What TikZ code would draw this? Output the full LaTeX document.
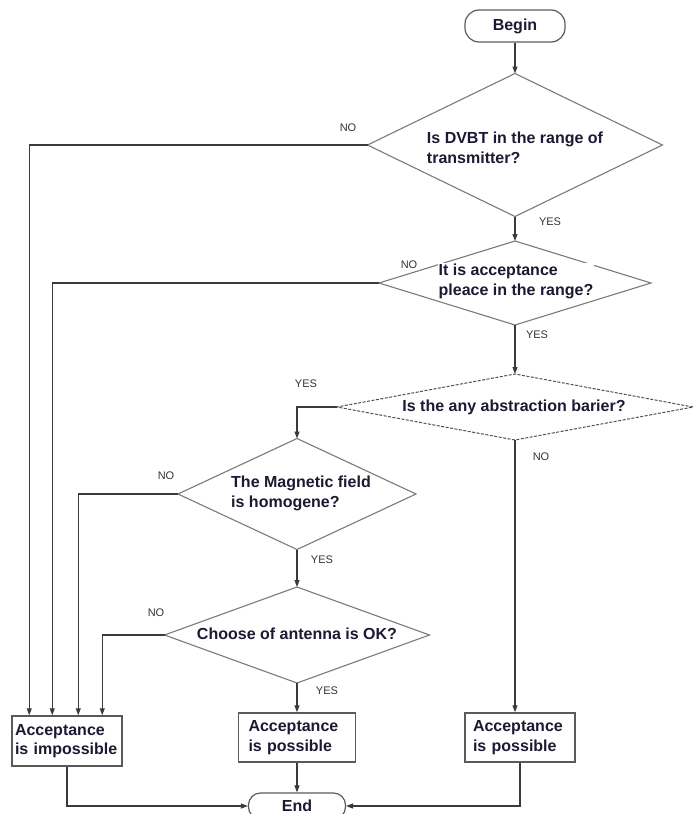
\documentclass[tikz,border=0pt]{standalone}
\usepackage{fontspec}
\setmainfont{Liberation Sans}
\usetikzlibrary{shapes.geometric,arrows.meta}
\definecolor{diagray}{HTML}{7A7A7A}
\definecolor{dashgray}{HTML}{505050}
\definecolor{boxgray}{HTML}{5A5A5A}
\definecolor{linecol}{HTML}{3A3A3A}
\definecolor{txtcol}{HTML}{1A1A33}
\definecolor{lblcol}{HTML}{333333}
\tikzset{
  dec/.style={diamond, draw=diagray, line width=1.1pt, inner sep=0pt, outer sep=0pt},
  txt/.style={font=\bfseries\fontsize{16}{20}\selectfont, text=txtcol, align=left, inner sep=1pt},
  lbl/.style={font=\fontsize{11}{13}\selectfont, text=lblcol, inner sep=0pt},
  term/.style={rectangle, rounded corners=12pt, draw=boxgray, line width=1.2pt, inner sep=0pt,
    font=\bfseries\fontsize{16}{20}\selectfont, text=txtcol},
  proc/.style={rectangle, draw=boxgray, line width=1.5pt, inner ysep=0pt,
    font=\bfseries\fontsize{16}{19.5}\selectfont, text=txtcol, align=left},
  conn/.style={draw=linecol, line width=1.1pt, -{Triangle[length=7pt,width=5pt]}},
}
\begin{document}
\begin{tikzpicture}[x=1pt,y=-1pt]
\useasboundingbox (0,0) rectangle (694,814);
% terminals
\node[term, rounded corners=14pt, minimum width=100pt, minimum height=32pt] (b) at (515,26) {Begin};
\node[term, minimum width=97pt, minimum height=26pt] (e) at (297,806) {End};
% decisions
\node[dec, minimum width=295pt, minimum height=143pt] (d1) at (515,145) {};
\node[txt] (t1) at (515,148) {Is DVBT in the range of\\transmitter?};
\node[dec, minimum width=272pt, minimum height=84pt] (d2) at (515,283) {};
\node[txt, fill=white] (t2) at (516,281) {It is acceptance\\pleace in the range?};
\node[dec, draw=dashgray, line width=1pt, dash pattern=on 3pt off 1.5pt, minimum width=356pt, minimum height=66pt] (d3) at (515,407) {};
\node[txt] (t3) at (514,407) {Is the any abstraction barier?};
\node[dec, minimum width=238pt, minimum height=111pt] (d4) at (297,494) {};
\node[txt] (t4) at (301,493) {The Magnetic field\\is homogene?};
\node[dec, minimum width=265pt, minimum height=96pt] (d5) at (297,635) {};
\node[txt, fill=white] (t5) at (297,634) {Choose of antenna is OK?};
% process boxes
\node[proc, inner xsep=3pt, text width=104pt, minimum height=50pt] (L) at (67,741) {Acceptance\\is impossible};
\node[proc, inner xsep=10pt, text width=97pt, minimum height=49pt] (m) at (297,737.5) {Acceptance\\is possible};
\node[proc, inner xsep=8pt, text width=94pt, minimum height=49pt] (r) at (520,737.5) {Acceptance\\is possible};
% connectors
\draw[conn] (b.south) -- (d1.north);
\draw[conn] (d1.south) -- (d2.north);
\draw[conn] (d2.south) -- (d3.north);
\draw[conn] (d3.west) -| (d4.north);
\draw[conn] (d4.south) -- (d5.north);
\draw[conn] (d5.south) -- (m.north);
\draw[conn] (d3.south) -- (d3.south |- r.north);
\draw[conn] (d1.west) -| ([xshift=18pt]L.north west);
\draw[conn] (d2.west) -| ([xshift=41pt]L.north west);
\draw[conn] (d4.west) -| ([xshift=67pt]L.north west);
\draw[conn] (d5.west) -| ([xshift=91pt]L.north west);
\draw[conn] (L.south) |- (e.west);
\draw[conn] (m.south) -- (e.north);
\draw[conn] (r.south) |- (e.east);
% labels
\node[lbl] (n1) at (348,128) {NO};
\node[lbl] (y1) at (550,222) {YES};
\node[lbl] (n2) at (409,265) {NO};
\node[lbl] (y2) at (537,335) {YES};
\node[lbl] (y3) at (306,384) {YES};
\node[lbl] (n3) at (541,457) {NO};
\node[lbl] (n4) at (166,476) {NO};
\node[lbl] (y4) at (322,560) {YES};
\node[lbl] (n5) at (156,613) {NO};
\node[lbl] (y5) at (327,691) {YES};
\end{tikzpicture}
\end{document}
